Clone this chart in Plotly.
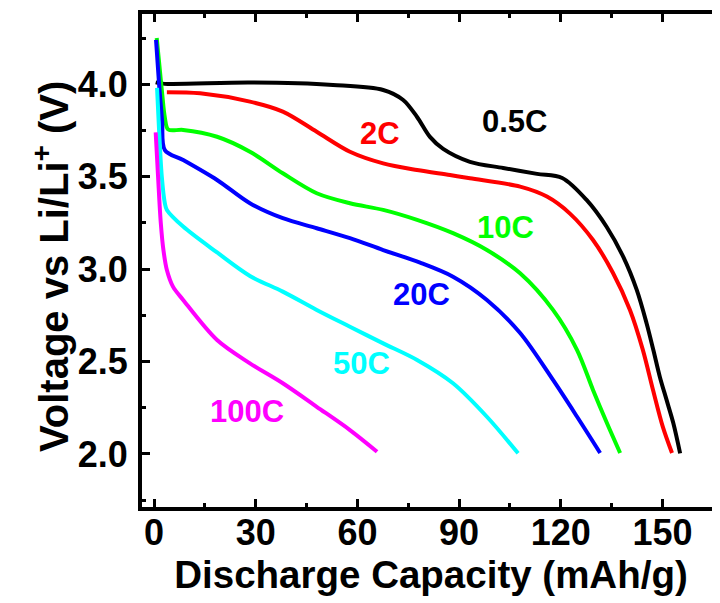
import plotly.graph_objects as go

# ---- data ----
x_05C = [0.5, 3.2, 28.3, 52.8, 67.6, 73.5, 77.6, 81.4, 85.3, 93.2, 103.0, 113.0, 120.4, 127.6, 133.5, 138.4, 142.4, 145.3, 147.3, 149.2, 151.2, 153.2, 155.2]
v_05C = [4.01, 4.002, 4.009, 3.996, 3.969, 3.915, 3.823, 3.715, 3.650, 3.580, 3.547, 3.515, 3.493, 3.374, 3.229, 3.067, 2.887, 2.707, 2.562, 2.418, 2.292, 2.166, 2.003]

x_2C = [3.8, 13.6, 28.3, 38.0, 48.0, 57.8, 67.6, 77.6, 87.3, 93.2, 108.0, 115.9, 122.7, 129.5, 135.4, 140.4, 144.2, 147.2, 150.1, 152.8]
v_2C = [3.957, 3.951, 3.906, 3.852, 3.743, 3.635, 3.572, 3.536, 3.509, 3.491, 3.446, 3.392, 3.30, 3.157, 2.979, 2.779, 2.563, 2.346, 2.146, 2.005]

x_10C = [0.8, 1.6, 2.4, 3.2, 4.2, 8.6, 18.6, 28.3, 38.0, 48.0, 57.8, 67.6, 77.6, 88.2, 98.2, 108.0, 117.7, 124.8, 129.5, 133.6, 137.5]
v_10C = [4.25, 4.10, 3.95, 3.82, 3.755, 3.753, 3.716, 3.635, 3.518, 3.41, 3.356, 3.32, 3.266, 3.194, 3.103, 2.977, 2.779, 2.562, 2.346, 2.167, 2.005]

x_20C = [0.6, 1.5, 2.4, 3.2, 8.6, 18.6, 28.3, 38.0, 48.0, 57.8, 67.6, 78.5, 88.2, 98.2, 108.0, 117.7, 124.8, 131.6]
v_20C = [4.24, 4.00, 3.80, 3.644, 3.59, 3.482, 3.356, 3.275, 3.221, 3.167, 3.103, 3.035, 2.959, 2.833, 2.654, 2.40, 2.201, 2.005]

x_50C = [0.9, 1.5, 2.3, 3.2, 3.8, 8.6, 18.6, 28.3, 38.0, 48.0, 57.8, 67.6, 77.6, 88.2, 98.2, 107.4]
v_50C = [3.98, 3.75, 3.50, 3.356, 3.32, 3.23, 3.09, 2.963, 2.878, 2.779, 2.688, 2.598, 2.508, 2.382, 2.201, 2.003]

x_100C = [0.5, 1.2, 2.0, 2.8, 3.8, 5.6, 8.6, 18.6, 28.3, 38.0, 48.0, 57.8, 65.8]
v_100C = [3.74, 3.50, 3.25, 3.10, 2.995, 2.905, 2.833, 2.616, 2.49, 2.382, 2.255, 2.129, 2.012]

series_names = ["0.5C", "2C", "10C", "20C", "50C", "100C"]
series_x = [x_05C, x_2C, x_10C, x_20C, x_50C, x_100C]
series_v = [v_05C, v_2C, v_10C, v_20C, v_50C, v_100C]
colors = ["#000000", "#FF0000", "#00FF00", "#0000FF", "#00FFFF", "#FF00FF"]

# label positions (data coords) for the rate annotations
label_x = [106.2, 66.7, 103.8, 79.0, 61.3, 27.3]
label_v = [3.80, 3.735, 3.227, 2.86, 2.49, 2.228]

x_ticks = [0, 30, 60, 90, 120, 150]
y_ticks = [2.0, 2.5, 3.0, 3.5, 4.0]

x_title = "Discharge Capacity (mAh/g)"
y_title = "Voltage vs Li/Li<sup>+</sup> (V)"

FONT = "Liberation Sans, Arial, sans-serif"

fig = go.Figure()
for name, xs, vs, c in zip(series_names, series_x, series_v, colors):
    fig.add_trace(go.Scatter(x=xs, y=vs, mode="lines", name=name,
                             line=dict(color=c, width=4, shape="spline", smoothing=0.9),
                             showlegend=False))

for name, lx, lv, c in zip(series_names, label_x, label_v, colors):
    fig.add_annotation(x=lx, y=lv, text=name, showarrow=False,
                       font=dict(family=FONT, size=31, color=c, weight="bold"))

# y-axis title as a rotated annotation for precise placement
fig.add_annotation(xref="paper", yref="paper", x=-0.1574, y=0.487, text=y_title,
                   textangle=-90, showarrow=False, xanchor="center", yanchor="middle",
                   font=dict(family=FONT, size=40, color="black", weight="bold"))

axis_common = dict(showgrid=False, zeroline=False, showline=True, linecolor="black",
                   linewidth=4, ticks="inside", ticklen=8, tickwidth=3, tickcolor="black",
                   tickfont=dict(family=FONT, size=36, color="black", weight="bold"))

fig.update_xaxes(range=[-3.54, 166.96], tickvals=x_ticks, mirror="ticks",
                 ticklabelstandoff=-9,
                 minor=dict(dtick=15, tick0=0, ticks="inside", ticklen=4, tickwidth=3, tickcolor="black"),
                 title=dict(text=x_title, standoff=0,
                            font=dict(family=FONT, size=38.5, color="black", weight="bold")),
                 **axis_common)
fig.update_yaxes(range=[1.7127, 4.380], tickvals=y_ticks, tickformat=".1f", mirror=False,
                 ticklabelstandoff=3,
                 minor=dict(dtick=0.25, tick0=0, ticks="inside", ticklen=4, tickwidth=3, tickcolor="black"),
                 **axis_common)

# the page body adds an 8 px margin, so the figure is 8 px smaller than the window
fig.update_layout(width=712, height=595, plot_bgcolor="white", paper_bgcolor="white",
                  margin=dict(l=134, r=0, t=6, b=96))

fig.write_html("out.html")
